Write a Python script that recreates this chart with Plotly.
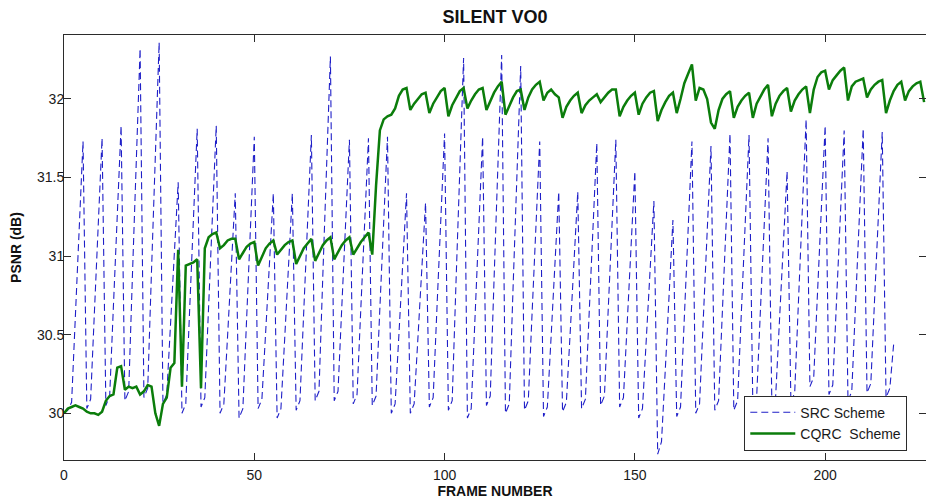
import plotly.graph_objects as go

# PSNR per frame for the two rate-control schemes (sequence "SILENT", VO0)
src_psnr = [
    30.00, 30.02, 30.07, 30.63, 31.22, 31.73, 30.03, 30.09, 30.65, 31.23,
    31.75, 30.05, 30.11, 30.69, 31.30, 31.83, 30.08, 30.14, 30.89, 31.65,
    32.32, 30.10, 30.16, 30.91, 31.68, 32.36, 30.06, 30.12, 30.57, 31.05,
    31.47, 30.00, 30.06, 30.65, 31.27, 31.81, 30.04, 30.10, 30.68, 31.29,
    31.83, 30.00, 30.06, 30.50, 30.98, 31.40, 29.97, 30.03, 30.61, 31.22,
    31.76, 30.03, 30.09, 30.52, 30.99, 31.40, 29.97, 30.03, 30.48, 30.97,
    31.40, 30.02, 30.08, 30.65, 31.25, 31.77, 30.08, 30.14, 30.87, 31.61,
    32.27, 30.08, 30.14, 30.68, 31.24, 31.74, 30.06, 30.12, 30.67, 31.24,
    31.75, 30.05, 30.11, 30.67, 31.25, 31.76, 30.00, 30.06, 30.50, 30.98,
    31.40, 30.00, 30.06, 30.48, 30.94, 31.34, 30.04, 30.10, 30.67, 31.26,
    31.78, 30.02, 30.08, 30.83, 31.59, 32.26, 29.97, 30.03, 30.61, 31.22,
    31.76, 30.05, 30.11, 30.85, 31.61, 32.28, 30.00, 30.06, 30.80, 31.55,
    32.21, 30.02, 30.08, 30.64, 31.22, 31.73, 29.98, 30.04, 30.49, 30.98,
    31.41, 30.01, 30.07, 30.51, 30.99, 31.41, 30.03, 30.09, 30.64, 31.21,
    31.72, 30.05, 30.11, 30.66, 31.23, 31.74, 30.04, 30.10, 30.58, 31.09,
    31.54, 29.97, 30.03, 30.47, 30.94, 31.35, 29.74, 29.82, 30.28, 30.78,
    31.23, 29.98, 30.04, 30.61, 31.21, 31.73, 30.00, 30.06, 30.61, 31.19,
    31.70, 30.02, 30.08, 30.65, 31.25, 31.78, 30.02, 30.08, 30.65, 31.25,
    31.77, 30.04, 30.10, 30.66, 31.24, 31.75, 30.05, 30.11, 30.59, 31.09,
    31.54, 30.07, 30.13, 30.72, 31.33, 31.87, 30.17, 30.23, 30.77, 31.33,
    31.83, 30.12, 30.18, 30.72, 31.30, 31.80, 30.08, 30.14, 30.70, 31.29,
    31.81, 30.13, 30.19, 30.73, 31.29, 31.79, 30.10, 30.16, 30.44,
]

cqrc_psnr = [
    30.00, 30.03, 30.04, 30.05, 30.04, 30.03, 30.01, 30.00, 30.00, 29.99,
    30.01, 30.08, 30.11, 30.12, 30.29, 30.30, 30.15, 30.17, 30.16, 30.17,
    30.12, 30.14, 30.18, 30.17, 30.00, 29.92, 30.06, 30.10, 30.29, 30.32,
    31.04, 30.17, 30.94, 30.95, 30.96, 30.98, 30.16, 31.05, 31.12, 31.14,
    31.15, 31.05, 31.07, 31.10, 31.11, 31.11, 30.98, 31.02, 31.06, 31.08,
    31.09, 30.94, 31.00, 31.05, 31.08, 31.10, 31.01, 31.04, 31.07, 31.09,
    31.10, 30.95, 31.00, 31.05, 31.08, 31.11, 30.97, 31.02, 31.07, 31.10,
    31.12, 30.98, 31.03, 31.07, 31.10, 31.12, 31.01, 31.05, 31.09, 31.12,
    31.15, 31.01, 31.45, 31.80, 31.87, 31.89, 31.90, 31.94, 32.02, 32.06,
    32.07, 31.93, 31.97, 32.00, 32.03, 32.04, 31.91, 31.97, 32.01, 32.05,
    32.07, 31.89, 31.96, 32.01, 32.05, 32.07, 31.94, 31.99, 32.03, 32.06,
    32.07, 31.93, 31.99, 32.04, 32.08, 32.11, 31.90, 31.96, 32.01, 32.05,
    32.06, 31.93, 32.01, 32.06, 32.09, 32.11, 31.99, 32.04, 32.06, 32.03,
    32.01, 31.88, 31.95, 31.99, 32.02, 32.04, 31.91, 31.96, 31.99, 32.01,
    32.03, 31.98, 32.01, 32.04, 32.06, 32.06, 31.89, 31.95, 31.99, 32.02,
    32.04, 31.90, 31.97, 32.01, 32.04, 32.05, 31.86, 31.93, 31.98, 32.02,
    32.04, 31.91, 32.00, 32.10, 32.16, 32.22, 31.99, 32.07, 32.06, 32.00,
    31.85, 31.81, 31.93, 32.00, 32.03, 32.05, 31.88, 31.95, 31.99, 32.02,
    32.04, 31.88, 31.97, 32.02, 32.06, 32.09, 31.89, 31.97, 32.02, 32.05,
    32.07, 31.92, 31.99, 32.03, 32.06, 32.08, 31.91, 32.06, 32.14, 32.17,
    32.18, 32.06, 32.12, 32.15, 32.18, 32.20, 31.99, 32.08, 32.11, 32.12,
    32.13, 32.01, 32.06, 32.09, 32.11, 32.12, 31.91, 31.99, 32.05, 32.09,
    32.11, 31.99, 32.05, 32.08, 32.10, 32.11, 31.98,
]

src_frames = list(range(len(src_psnr)))
cqrc_frames = list(range(len(cqrc_psnr)))

x_ticks = [0, 50, 100, 150, 200]
y_ticks = [30, 30.5, 31, 31.5, 32]
y_tick_text = ["30", "30.5", "31", "31.5", "32"]

FONT = "Liberation Sans, Arial, Helvetica, sans-serif"
AXIS_COLOR = "#2b2b2b"

fig = go.Figure()
fig.add_trace(go.Scatter(
    x=src_frames, y=src_psnr, mode="lines", name="SRC Scheme",
    line=dict(color="#1f1fc8", width=1.1, dash="7px,4px"),
))
fig.add_trace(go.Scatter(
    x=cqrc_frames, y=cqrc_psnr, mode="lines", name="CQRC\u00a0 Scheme",
    line=dict(color="#0b7d0b", width=2.5),
))

axis_common = dict(
    showgrid=False, zeroline=False, showline=True, linecolor=AXIS_COLOR,
    linewidth=1, mirror="allticks", ticks="inside", ticklen=7,
    tickcolor=AXIS_COLOR, tickwidth=1,
    tickfont=dict(family=FONT, size=14, color="#1a1a1a"),
)

fig.update_layout(
    width=926, height=504,
    margin=dict(l=64, r=0, t=35, b=44),
    paper_bgcolor="white", plot_bgcolor="white",
    title=dict(
        text="<b>SILENT VO0</b>", x=0.5, xref="paper", xanchor="center",
        y=1 - 17 / 504, yref="container", yanchor="middle",
        font=dict(family=FONT, size=18, color="#111111"),
    ),
    xaxis=dict(
        range=[0, 226.5], tickvals=x_ticks, ticklabelstandoff=2,
        title=dict(text="<b>FRAME NUMBER</b>", standoff=4,
                   font=dict(family=FONT, size=14, color="#111111")),
        **axis_common,
    ),
    yaxis=dict(
        range=[29.703, 32.407], tickvals=y_ticks, ticktext=y_tick_text,
        ticklabelstandoff=-4,
        title=dict(text="<b>PSNR (dB)</b>", standoff=12,
                   font=dict(family=FONT, size=14, color="#111111")),
        **axis_common,
    ),
    legend=dict(
        x=0.9783, xanchor="right", y=0.022, yanchor="bottom",
        bgcolor="white", bordercolor=AXIS_COLOR, borderwidth=1,
        font=dict(family=FONT, size=14, color="#1a1a1a"),
        tracegroupgap=0, itemwidth=45,
    ),
    showlegend=True,
)

fig.write_html("out.html")
